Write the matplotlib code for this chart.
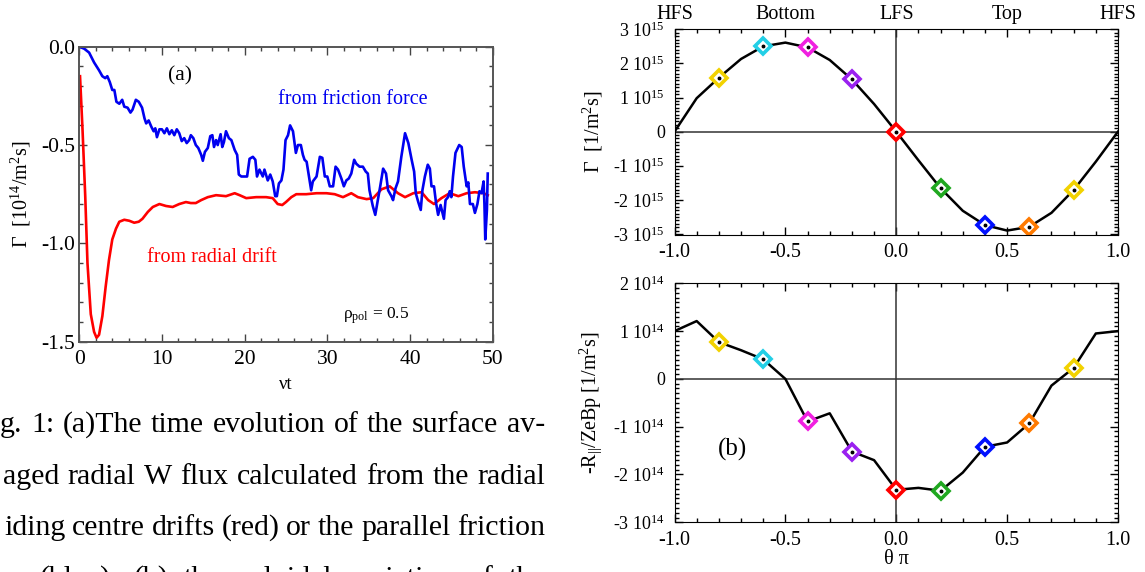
import matplotlib
matplotlib.use('Agg')
import matplotlib.pyplot as plt
from matplotlib.ticker import MultipleLocator, FuncFormatter, FormatStrFormatter
import matplotlib.transforms as mtransforms

plt.rcParams['font.family'] = ['Liberation Serif', 'DejaVu Serif']
plt.rcParams['mathtext.fontset'] = 'custom'
plt.rcParams['mathtext.rm'] = 'Liberation Serif'
plt.rcParams['mathtext.it'] = 'Liberation Serif:italic'
plt.rcParams['axes.unicode_minus'] = False

# (a) time evolution, flux in 1e14 /m^2 s
friction_t = [0.0, 0.6, 1.2, 1.8, 2.4, 2.8, 3.15, 3.4, 3.7, 4.0, 4.25, 4.5, 4.85, 5.2, 5.45, 5.85,
              6.2, 6.45, 6.85, 7.2, 7.6, 7.9, 8.1, 8.4, 8.7, 9.0, 9.2, 9.4, 9.7, 10.0, 10.3, 10.6,
              10.9, 11.2, 11.5, 11.8, 12.1, 12.4, 12.7, 13.0, 13.3, 13.5, 13.8, 14.1, 14.4, 14.75,
              14.95, 15.2, 15.55, 15.85, 16.1, 16.3, 16.55, 16.75, 17.1, 17.3, 17.5, 17.75, 18.1,
              18.4, 18.8, 19.1, 19.3, 19.6, 20.0, 20.3, 20.6, 21.0, 21.3, 21.5, 21.8, 22.2, 22.4,
              22.8, 23.1, 23.4, 23.7, 23.9, 24.15, 24.45, 24.7, 24.95, 25.25, 25.5, 25.85, 26.2,
              26.45, 26.8, 27.05, 27.25, 27.5, 28.05, 28.25, 28.7, 29.1, 29.4, 29.7, 30.0, 30.3,
              30.7, 31.0, 31.3, 31.7, 32.0, 32.3, 32.6, 32.9, 33.25, 33.5, 33.9, 34.3, 34.65, 34.9,
              35.1, 35.5, 35.8, 36.15, 36.4, 36.75, 37.1, 37.35, 37.75, 37.95, 38.25, 38.55, 38.95,
              39.4, 39.8, 40.2, 40.5, 40.7, 41.0, 41.3, 41.5, 41.8, 42.15, 42.4, 42.6, 42.9, 43.15,
              43.4, 43.7, 43.9, 44.1, 44.3, 44.6, 44.8, 45.0, 45.2, 45.5, 45.95, 46.25, 46.5, 46.85,
              47.05, 47.25, 47.6, 47.85, 48.15, 48.4, 48.65, 48.9, 49.0, 49.1, 49.3, 49.4]
friction_v = [0.0, -0.01, -0.03, -0.08, -0.12, -0.15, -0.16, -0.15, -0.18, -0.22, -0.22, -0.28,
              -0.29, -0.27, -0.305, -0.31, -0.335, -0.32, -0.27, -0.28, -0.31, -0.365, -0.39,
              -0.375, -0.405, -0.43, -0.415, -0.46, -0.42, -0.42, -0.44, -0.415, -0.445, -0.425,
              -0.45, -0.42, -0.44, -0.48, -0.465, -0.49, -0.475, -0.45, -0.465, -0.5, -0.515,
              -0.55, -0.58, -0.535, -0.515, -0.455, -0.45, -0.51, -0.475, -0.5, -0.445, -0.51,
              -0.485, -0.43, -0.465, -0.475, -0.525, -0.55, -0.65, -0.66, -0.66, -0.66, -0.57,
              -0.56, -0.575, -0.66, -0.625, -0.66, -0.625, -0.68, -0.65, -0.685, -0.76, -0.76,
              -0.695, -0.68, -0.625, -0.475, -0.45, -0.4, -0.43, -0.54, -0.5, -0.5, -0.55,
              -0.575, -0.585, -0.73, -0.685, -0.66, -0.56, -0.565, -0.66, -0.66, -0.71, -0.71,
              -0.61, -0.625, -0.67, -0.71, -0.68, -0.67, -0.645, -0.575, -0.595, -0.61, -0.61,
              -0.635, -0.645, -0.73, -0.81, -0.855, -0.77, -0.71, -0.62, -0.645, -0.73, -0.76,
              -0.78, -0.72, -0.685, -0.56, -0.44, -0.49, -0.575, -0.635, -0.745, -0.79, -0.83,
              -0.73, -0.66, -0.6, -0.62, -0.71, -0.71, -0.795, -0.855, -0.805, -0.84, -0.875,
              -0.78, -0.765, -0.735, -0.765, -0.66, -0.54, -0.5, -0.51, -0.61, -0.71, -0.69,
              -0.8, -0.8, -0.845, -0.8, -0.735, -0.745, -0.685, -0.8, -0.98, -0.83, -0.645]

radial_t = [0.1, 0.4, 0.73, 1.0, 1.4, 1.8, 2.1, 2.4, 2.8, 3.2, 3.6, 4.0, 4.45, 4.85, 5.45, 6.05,
            6.65, 7.2, 7.65, 8.3, 8.9, 9.7, 10.5, 11.3, 12.1, 12.9, 13.5, 14.1, 14.75, 15.55,
            16.55, 17.75, 18.8, 19.4, 20.2, 21.4, 22.6, 23.4, 24.0, 24.55, 25.0, 25.65, 26.25,
            27.45, 28.7, 29.9, 30.9, 31.9, 32.9, 33.7, 34.75, 35.55, 36.55, 37.55, 38.55, 39.4,
            40.4, 41.4, 42.2, 42.9, 43.8, 44.8, 45.85, 46.85, 47.85, 48.9, 49.4]
radial_v = [-0.15, -0.42, -0.76, -1.1, -1.36, -1.45, -1.48, -1.465, -1.37, -1.22, -1.085, -0.98,
            -0.925, -0.89, -0.88, -0.885, -0.895, -0.89, -0.875, -0.84, -0.815, -0.8, -0.81,
            -0.815, -0.8, -0.79, -0.795, -0.795, -0.78, -0.765, -0.755, -0.76, -0.745, -0.755,
            -0.77, -0.765, -0.765, -0.77, -0.8, -0.805, -0.79, -0.765, -0.75, -0.75, -0.745,
            -0.745, -0.75, -0.765, -0.745, -0.765, -0.775, -0.77, -0.725, -0.71, -0.745, -0.765,
            -0.745, -0.74, -0.78, -0.8, -0.77, -0.745, -0.76, -0.745, -0.74, -0.745, -0.755]

# (b) poloidal variation
theta = [-1.0, -0.9, -0.8, -0.7, -0.6, -0.5, -0.4, -0.3, -0.2, -0.1, 0.0,
         0.1, 0.2, 0.3, 0.4, 0.5, 0.6, 0.7, 0.8, 0.9, 1.0]
gamma_pol = [0.0, 0.98e15, 1.58e15, 2.13e15, 2.50e15, 2.61e15, 2.47e15, 2.10e15, 1.53e15, 0.81e15, 0.0,
             -0.84e15, -1.66e15, -2.32e15, -2.74e15, -2.90e15, -2.79e15, -2.38e15, -1.71e15, -0.88e15, 0.0]
friction_pol = [1.0e14, 1.21e14, 0.77e14, 0.60e14, 0.41e14, 0.0, -0.89e14, -0.72e14, -1.52e14, -1.70e14,
                -2.32e14, -2.28e14, -2.34e14, -1.96e14, -1.42e14, -1.33e14, -0.93e14, -0.14e14,
                0.23e14, 0.95e14, 1.0e14]
marker_idx = [2, 4, 6, 8, 10, 12, 14, 16, 18]
marker_colors = ['#f2d200', '#22cfe6', '#f020e0', '#9a20f0', '#ff0000',
                 '#20a820', '#0010ff', '#ff7a00', '#f2d200']
side_names = ['HFS', 'Bottom', 'LFS', 'Top', 'HFS']
side_pos = [-1.0, -0.5, 0.0, 0.5, 1.0]

caption = [
    (0, 432, "g. 1: (a)The time evolution of the surface av-"),
    (3, 484, "aged radial W flux calculated from the radial"),
    (4, 535, "iding centre drifts (red) or the parallel friction"),
    (40, 586, "(blue), (b) the poloidal variation of the"),
]

W, H = 1145, 572
fig = plt.figure(figsize=(W / 100, H / 100), dpi=100)


def box(l, t, r, b):
    return [l / W, 1 - b / H, (r - l) / W, (b - t) / H]


def idl_ticks(ax, size, col='black'):
    ax.tick_params(which='both', direction='in', top=True, right=True, colors=col,
                   labelcolor='black', labelsize=size)
    ax.tick_params(which='major', length=6, width=1)
    ax.tick_params(which='minor', length=3, width=1)


# ---- panel (a)
ax1 = fig.add_axes(box(79.2, 46.7, 492.7, 341.7))
ax1.plot(radial_t, radial_v, color='#ff0000', lw=1.9)
ax1.plot(friction_t, friction_v, color='#0000f0', lw=1.9)
ax1.set_xlim(0, 50)
ax1.set_ylim(-1.5, 0.0)
ax1.xaxis.set_major_locator(MultipleLocator(10))
ax1.xaxis.set_minor_locator(MultipleLocator(2))
ax1.yaxis.set_major_locator(MultipleLocator(0.5))
ax1.yaxis.set_minor_locator(MultipleLocator(0.1))
ax1.yaxis.set_major_formatter(FormatStrFormatter('%.1f'))
idl_ticks(ax1, 15.5, '#444444')
ax1.tick_params(axis='y', pad=3)
ax1.tick_params(axis='x', pad=6)
for s in ax1.spines.values():
    s.set_color('#555555')
    s.set_linewidth(1.4)
ax1.set_ylabel('Γ  [10$^{14}$/m$^{2}$s]', fontsize=14.5, labelpad=6)
ax1.set_xlabel('νt', fontsize=13.5, labelpad=5)
ax1.text(10.7, -0.15, '(a)', fontsize=15.5, va='center')
ax1.text(24.0, -0.27, 'from friction force', color='#0000f0', fontsize=14.5, va='center')
ax1.text(8.2, -1.07, 'from radial drift', color='#ff0000', fontsize=14.5, va='center')
ax1.text(31.9, -1.37, 'ρ$_{\\mathrm{pol}}$ = 0.5', fontsize=12.5, va='center')


def sci_fmt(exp):
    def f(v, pos):
        m = int(round(v / 10 ** exp))
        if m == 0:
            return '0'
        return '%d 10$^{%d}$' % (m, exp)
    return FuncFormatter(f)


# ---- panel top right
ax2 = fig.add_axes(box(674.5, 29.3, 1118, 235))
ax2.axhline(0, color='#333333', lw=1.1)
ax2.axvline(0, color='#333333', lw=1.1)
ax2.plot(theta, gamma_pol, color='black', lw=1.8)
for i, c in zip(marker_idx, marker_colors):
    ax2.plot(theta[i], gamma_pol[i], 'D', ms=8.5, mfc='white', mec=c, mew=2.6)
    ax2.plot(theta[i], gamma_pol[i], 'o', ms=1.8, color='black')
ax2.set_xlim(-1, 1)
ax2.set_ylim(-3.03e15, 3.0e15)
ax2.xaxis.set_major_locator(MultipleLocator(0.5))
ax2.xaxis.set_minor_locator(MultipleLocator(0.1))
ax2.xaxis.set_major_formatter(FormatStrFormatter('%.1f'))
ax2.yaxis.set_major_locator(MultipleLocator(1e15))
ax2.yaxis.set_minor_locator(MultipleLocator(1e14))
ax2.yaxis.set_major_formatter(sci_fmt(15))
ax2.yaxis.get_offset_text().set_visible(False)
idl_ticks(ax2, 13)
ax2.tick_params(axis='x', labelsize=14.5, pad=6)
ax2.tick_params(axis='y', pad=7)
ax2.set_ylabel('Γ  [1/m$^{2}$s]', fontsize=14.5, labelpad=6)
trans = mtransforms.blended_transform_factory(ax2.transData, ax2.transAxes)
for name, p in zip(side_names, side_pos):
    ax2.text(p, 1.07, name, transform=trans, ha='center', va='center', fontsize=14.5)

# ---- panel bottom right
ax3 = fig.add_axes(box(674.5, 283.3, 1118, 522.3))
ax3.axhline(0, color='#333333', lw=1.1)
ax3.axvline(0, color='#333333', lw=1.1)
ax3.plot(theta, friction_pol, color='black', lw=1.8)
for i, c in zip(marker_idx, marker_colors):
    ax3.plot(theta[i], friction_pol[i], 'D', ms=8.5, mfc='white', mec=c, mew=2.6)
    ax3.plot(theta[i], friction_pol[i], 'o', ms=1.8, color='black')
ax3.set_xlim(-1, 1)
ax3.set_ylim(-3e14, 2e14)
ax3.xaxis.set_major_locator(MultipleLocator(0.5))
ax3.xaxis.set_minor_locator(MultipleLocator(0.1))
ax3.xaxis.set_major_formatter(FormatStrFormatter('%.1f'))
ax3.yaxis.set_major_locator(MultipleLocator(1e14))
ax3.yaxis.set_minor_locator(MultipleLocator(1e13))
ax3.yaxis.set_major_formatter(sci_fmt(14))
ax3.yaxis.get_offset_text().set_visible(False)
idl_ticks(ax3, 13)
ax3.tick_params(axis='x', labelsize=14.5, pad=6)
ax3.tick_params(axis='y', pad=7)
ax3.set_ylabel('-R$_{||}$/ZeBp [1/m$^{2}$s]', fontsize=14.5, labelpad=6)
ax3.set_xlabel('θ π', fontsize=14.5, labelpad=0)
ax3.text(-0.74, -1.47e14, '(b)', fontsize=18, va='center', ha='center')

# ---- caption text, justified to the column edge
renderer = fig.canvas.get_renderer()
right_edge = 545
for x0, y0, line in caption:
    words = line.split(' ')
    items = []
    for w in words:
        t = fig.text(0, 1 - y0 / H, w, fontsize=21.5, va='baseline', ha='left')
        items.append(t)
    widths = [t.get_window_extent(renderer).width for t in items]
    gap = (right_edge - x0 - sum(widths)) / (len(items) - 1)
    x = x0
    for t, wd in zip(items, widths):
        t.set_x(x / W)
        x += wd + gap

fig.savefig('out.png', dpi=100)
